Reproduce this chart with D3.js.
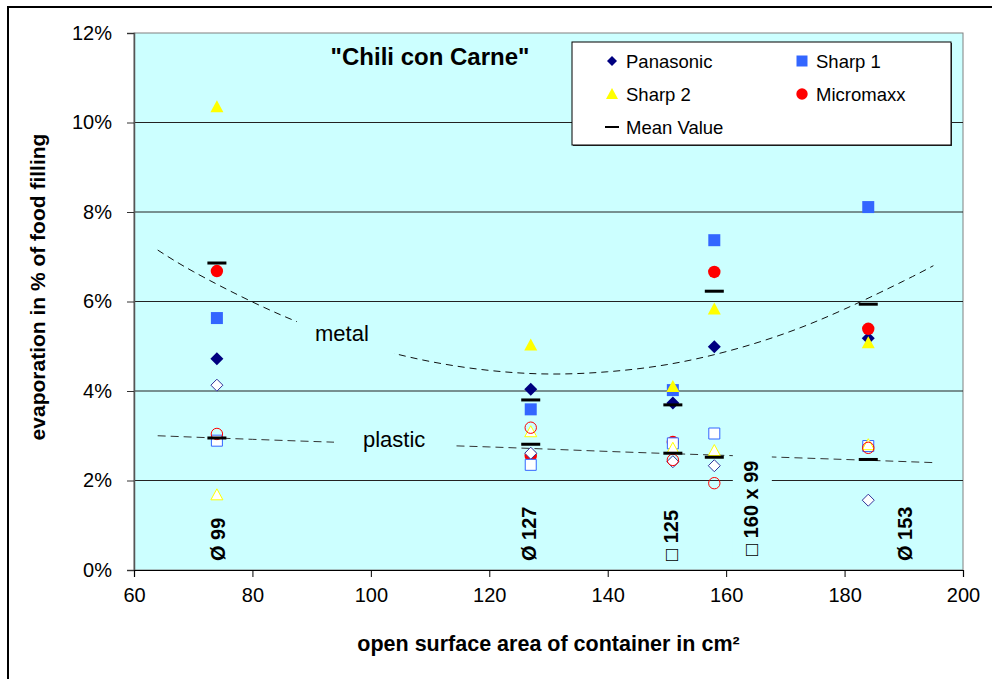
<!DOCTYPE html>
<html><head><meta charset="utf-8">
<script src="https://cdn.jsdelivr.net/npm/d3@7/dist/d3.min.js"></script>
<style>
html,body{margin:0;padding:0;background:#fff;}
svg{display:block;font-family:"Liberation Sans",Arial,sans-serif;}
</style></head>
<body><svg id="c" width="992" height="679"></svg>
<script>
// ---- data ----
const surfaceArea = [74, 127, 151, 158, 184];
// metal containers (filled markers)
const panasonicMetal = [4.72, 4.04, 3.73, 4.99, 5.18];
const sharp1Metal    = [5.63, 3.59, 4.02, 7.37, 8.11];
const sharp2Metal    = [10.35, 5.03, 4.10, 5.83, 5.08];
const micromaxxMetal = [6.68, 2.55, 2.86, 6.66, 5.39];
const meanMetal      = [6.86, 3.80, 3.69, 6.23, 5.94];
// plastic containers (open markers)
const panasonicPlastic = [4.13, 2.61, 2.42, 2.33, 1.56];
const sharp1Plastic    = [2.89, 2.35, 2.83, 3.05, 2.77];
const sharp2Plastic    = [1.68, 3.09, 2.72, 2.67, 2.80];
const micromaxxPlastic = [3.04, 3.18, 2.46, 1.94, 2.73];
const meanPlastic      = [2.95, 2.81, 2.61, 2.52, 2.47];
// trend lines
const metalTrendX = [64, 70, 80, 90, 100, 110, 120, 130, 140, 150, 160, 170, 180, 190, 195];
const metalTrendY = [7.15, 6.67, 5.99, 5.42, 4.98, 4.66, 4.46, 4.38, 4.43, 4.59, 4.88, 5.29, 5.83, 6.46, 6.80];
const plasticTrendX = [64, 80, 100, 120, 140, 160, 180, 195];
const plasticTrendY = [3.00, 2.92, 2.83, 2.75, 2.65, 2.56, 2.47, 2.40];
// axis ticks
const xTicks = [60, 80, 100, 120, 140, 160, 180, 200];
const yTicks = [0, 2, 4, 6, 8, 10, 12];
// container labels
const containerLabels = ["Ø 99", "Ø 127", "□ 125", "□ 160 x 99", "Ø 153"];
const containerLabelX = [74, 126.5, 150.5, 164, 190];

const svg = d3.select("#c");
const L = 134, R = 963, T = 33, B = 570;
const x = d3.scaleLinear().domain([60, 200]).range([L, R]);
const y = d3.scaleLinear().domain([0, 12]).range([B, T]);

// outer border
svg.append("rect").attr("x", 8).attr("y", 7).attr("width", 1000).attr("height", 700)
  .attr("fill", "#fff").attr("stroke", "#000").attr("stroke-width", 2);

// plot background
svg.append("rect").attr("x", L).attr("y", T).attr("width", R - L).attr("height", B - T)
  .attr("fill", "#CCFFFF").attr("stroke", "#808080").attr("stroke-width", 1);

// gridlines
svg.append("g").selectAll("line").data(yTicks.filter(d => d > 0 && d < 12)).join("line")
  .attr("x1", L).attr("x2", R).attr("y1", d => y(d)).attr("y2", d => y(d))
  .attr("stroke", "#222").attr("stroke-width", 1);

// axes
const yAxis = d3.axisLeft(y).tickValues(yTicks).tickFormat(d => d + "%").tickSize(7).tickPadding(15);
const gy = svg.append("g").attr("transform", `translate(${L},0)`).call(yAxis);
gy.select(".domain").attr("stroke", "#555").attr("stroke-width", 1.5);
gy.selectAll(".tick line").attr("stroke", "#333");
gy.selectAll("text").attr("font-size", 20).attr("font-family", "Liberation Sans, Arial, sans-serif").attr("fill", "#000");

const xAxis = d3.axisBottom(x).tickValues(xTicks).tickSize(7).tickPadding(11);
const gx = svg.append("g").attr("transform", `translate(0,${B})`).call(xAxis);
gx.select(".domain").attr("stroke", "#000").attr("stroke-width", 1.2);
gx.selectAll(".tick line").attr("stroke", "#000");
gx.selectAll("text").attr("font-size", 20).attr("font-family", "Liberation Sans, Arial, sans-serif").attr("fill", "#000");

// axis titles
svg.append("text").attr("x", (L + R) / 2).attr("y", 651).attr("text-anchor", "middle")
  .attr("font-size", 21.5).attr("font-weight", "bold").text("open surface area of container in cm²");
svg.append("text").attr("transform", "translate(45,287) rotate(-90)").attr("text-anchor", "middle")
  .attr("font-size", 21).attr("font-weight", "bold").text("evaporation in % of food filling");

// trend lines
const line = d3.line().x(d => x(d[0])).y(d => y(d[1])).curve(d3.curveNatural);
svg.append("path").datum(metalTrendX.map((v, i) => [v, metalTrendY[i]])).attr("d", line)
  .attr("fill", "none").attr("stroke", "#111").attr("stroke-width", 1).attr("stroke-dasharray", "7,5");
svg.append("path").datum(plasticTrendX.map((v, i) => [v, plasticTrendY[i]])).attr("d", line)
  .attr("fill", "none").attr("stroke", "#333").attr("stroke-width", 1).attr("stroke-dasharray", "8,5");

// trend labels with background boxes
svg.append("rect").attr("x", 297).attr("y", 310).attr("width", 97).attr("height", 70).attr("fill", "#CCFFFF");
svg.append("text").attr("x", 315).attr("y", 341).attr("font-size", 22).text("metal");
svg.append("rect").attr("x", 334).attr("y", 405).attr("width", 122).attr("height", 65).attr("fill", "#CCFFFF");
svg.append("text").attr("x", 363).attr("y", 447).attr("font-size", 22).text("plastic");

// container labels (rotated)
containerLabels.forEach((t, i) => {
  const cx = x(containerLabelX[i]);
  if (i === 3) {
    svg.append("rect").attr("x", cx - 17).attr("y", 444).attr("width", 39).attr("height", 120).attr("fill", "#CCFFFF");
  }
  svg.append("text").attr("transform", `translate(${cx + 8},${i === 3 ? 556 : 561}) rotate(-90)`)
    .attr("font-size", 20).attr("font-weight", "bold")
    .attr("font-family", "Liberation Sans, DejaVu Sans, sans-serif").text(t);
});

// title
svg.append("text").attr("x", 430).attr("y", 65).attr("text-anchor", "middle")
  .attr("font-size", 24).attr("font-weight", "bold").text("\"Chili con Carne\"");

// markers
function shape(type, s) {
  if (type === "diamond") return `M0,${-s}L${s},0L0,${s}L${-s},0Z`;
  if (type === "square") return `M${-s + 0.5},${-s + 0.5}H${s - 0.5}V${s - 0.5}H${-s + 0.5}Z`;
  if (type === "triangle") return `M0,${-s}L${s},${s - 1}L${-s},${s - 1}Z`;
  if (type === "circle") return d3.symbol(d3.symbolCircle, Math.PI * (s - 0.3) * (s - 0.3))();
}
const seriesList = [
  { v: panasonicMetal, t: "diamond", fill: "#000080", stroke: "none" },
  { v: sharp1Metal, t: "square", fill: "#3366FF", stroke: "none" },
  { v: sharp2Metal, t: "triangle", fill: "#FFFF00", stroke: "none" },
  { v: micromaxxMetal, t: "circle", fill: "#FF0000", stroke: "none" },
  { v: panasonicPlastic, t: "diamond", fill: "#fff", stroke: "#333399" },
  { v: sharp1Plastic, t: "square", fill: "#fff", stroke: "#3366FF" },
  { v: sharp2Plastic, t: "triangle", fill: "#fff", stroke: "#FFFF00" },
  { v: micromaxxPlastic, t: "circle", fill: "none", stroke: "#FF0000" }
];
seriesList.forEach(s => {
  svg.append("g").selectAll("path").data(s.v).join("path")
    .attr("transform", (d, i) => `translate(${x(surfaceArea[i])},${y(d)})`)
    .attr("d", shape(s.t, s.fill === "#fff" || s.fill === "none" ? 6 : 6.5))
    .attr("fill", s.fill).attr("stroke", s.stroke).attr("stroke-width", 1);
});
[meanMetal, meanPlastic].forEach(m => {
  svg.append("g").selectAll("rect").data(m).join("rect")
    .attr("x", (d, i) => x(surfaceArea[i]) - 9.5).attr("y", d => y(d) - 1.5)
    .attr("width", 19).attr("height", 3).attr("fill", "#000");
});

// legend
svg.append("rect").attr("x", 573).attr("y", 43).attr("width", 379).attr("height", 103).attr("fill", "#333");
svg.append("rect").attr("x", 572).attr("y", 42).attr("width", 379).attr("height", 103)
  .attr("fill", "#fff").attr("stroke", "#000").attr("stroke-width", 1);
const legendNames = ["Panasonic", "Sharp 1", "Sharp 2", "Micromaxx", "Mean Value"];
const legendPos = [[612, 61], [802, 61], [612, 94], [802, 94], [612, 127]];
legendNames.forEach((n, i) => {
  const [lx, ly] = legendPos[i];
  const g = svg.append("g").attr("transform", `translate(${lx},${ly})`);
  if (i < 4) {
    const s = seriesList[i];
    g.append("path").attr("d", shape(s.t, i === 0 ? 5 : 6)).attr("fill", s.fill);
  } else {
    g.append("rect").attr("x", -7).attr("y", -1).attr("width", 14).attr("height", 2).attr("fill", "#000");
  }
  svg.append("text").attr("x", lx + 14).attr("y", ly).attr("dy", "0.36em")
    .attr("font-size", 18.5).text(n);
});
</script></body></html>
